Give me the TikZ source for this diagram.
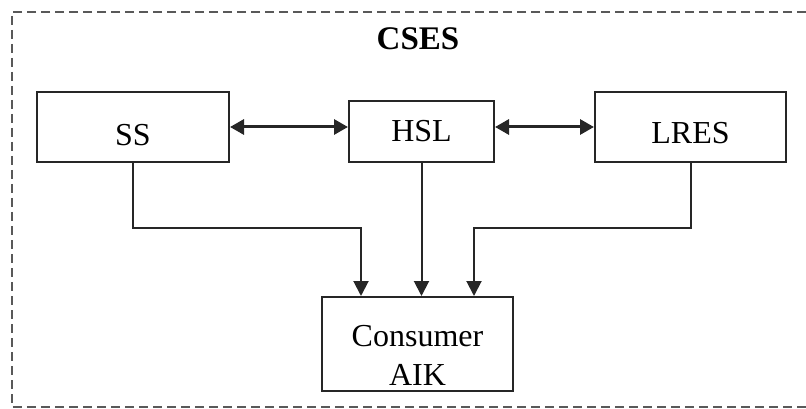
\documentclass[tikz,border=0pt]{standalone}
\usepackage{fontspec}
\setmainfont{Liberation Serif}
\usetikzlibrary{arrows.meta}

\tikzset{
    unit/.style={draw=black!85, line width=2pt, inner sep=0pt,
                 font=\fontsize{32}{40}\selectfont},
    link/.style={draw=black!85, line width=2pt, -{Triangle[length=15pt, width=15pt]}},
    both/.style={draw=black!85, line width=3pt,
                 {Triangle[length=14pt, width=15pt]}-{Triangle[length=14pt, width=15pt]}},
}

\begin{document}
\begin{tikzpicture}[x=1pt, y=-1pt]
    \useasboundingbox (0, 0) rectangle (806, 409);

    % outer system frame
    \draw[black!65, line width=1.3pt, dash pattern=on 9pt off 5pt]
        (806, 12) -- (12, 12) -- (12, 407) -- (806, 407);
    \path (418, 50)    node[anchor=base, font=\bfseries\fontsize{33}{36}\selectfont] (cses) {CSES};

    \path (133, 127)   node[unit, minimum width=192pt, minimum height=70pt, text height=38pt, text depth=0pt] (ss)   {SS};
    \path (421.5, 131.5) node[unit, minimum width=145pt, minimum height=61pt, text height=21pt, text depth=0pt] (hsl)  {HSL};
    \path (690.5, 127) node[unit, minimum width=191pt, minimum height=70pt, text height=32pt, text depth=0pt] (lres) {LRES};
    \path (417.5, 344) node[unit, minimum width=191pt, minimum height=94pt, text height=43pt, text depth=39pt]
        (cons) {\begin{tabular}[t]{@{}c@{}}Consumer\\[-1pt]AIK\end{tabular}};

    \coordinate (ssbend)   at (361, 228);
    \coordinate (lresbend) at (474, 228);

    \draw[both] (ss.east) -- (ss.east -| hsl.west);
    \draw[both] (hsl.east |- lres.west) -- (lres.west);

    \draw[link] (ss.south) |- (ssbend) -- (ssbend |- cons.north);
    \draw[link] (hsl.south) -- (hsl.south |- cons.north);
    \draw[link] (lres.south) |- (lresbend) -- (lresbend |- cons.north);
\end{tikzpicture}
\end{document}
